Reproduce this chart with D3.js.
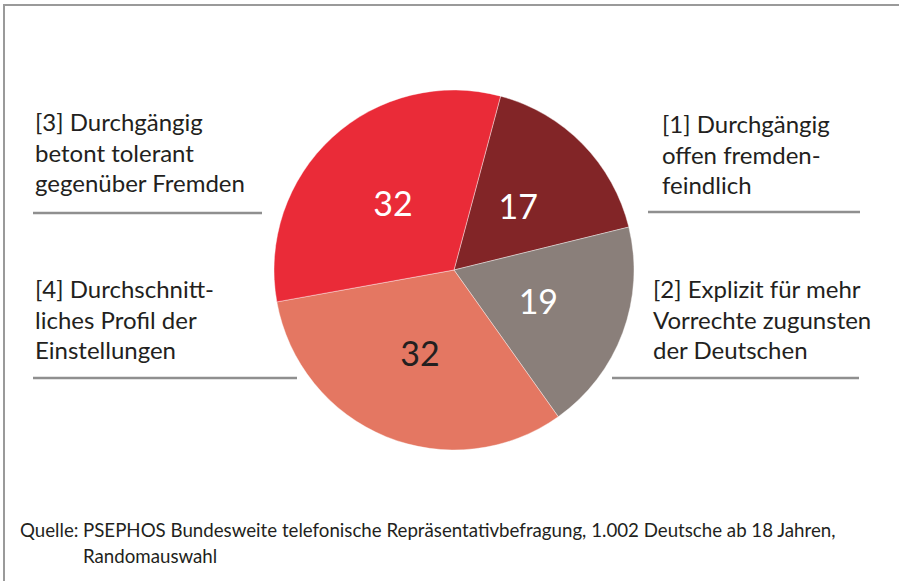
<!DOCTYPE html>
<html>
<head>
<meta charset="utf-8">
<script src="https://cdn.jsdelivr.net/npm/d3@7"></script>
<style>
  body { margin: 0; background: #fff; }
  svg { font-family: Lato, "Open Sans", sans-serif; }
</style>
</head>
<body>
<svg id="chart" width="899" height="581"></svg>
<script>
// Daten
const groups = ["[1]", "[2]", "[4]", "[3]"];
const shares = [17, 19, 32, 32];
const colors = ["#822527", "#8a7f7a", "#e47762", "#ea2b38"];
const valueColors = ["#fff", "#fff", "#231f20", "#fff"];
const labelLines = [
  ["[1] Durchgängig", "offen fremden-", "feindlich"],
  ["[2] Explizit für mehr", "Vorrechte zugunsten", "der Deutschen"],
  ["[4] Durchschnitt-", "liches Profil der", "Einstellungen"],
  ["[3] Durchgängig", "betont tolerant", "gegenüber Fremden"]
];
const source = ["Quelle:", "PSEPHOS Bundesweite telefonische Repräsentativbefragung, 1.002 Deutsche ab 18 Jahren,", "Randomauswahl"];

const svg = d3.select("#chart");
const data = groups.map((g, i) => ({ g, v: shares[i], color: colors[i], tc: valueColors[i], lines: labelLines[i] }));

// Rahmen
svg.append("path")
  .attr("d", "M4,581 L4,5 L899,5")
  .attr("fill", "none")
  .attr("stroke", "#9a9a9a")
  .attr("stroke-width", 2);

// Kreisdiagramm
const cx = 454, cy = 270, r = 180;
const pie = d3.pie().value(d => d.v).sort(null)
  .startAngle(15 * Math.PI / 180)
  .endAngle(375 * Math.PI / 180);
const arc = d3.arc().innerRadius(0).outerRadius(r);

const g = svg.append("g").attr("transform", `translate(${cx},${cy})`);
const arcs = pie(data);
g.selectAll("path.slice")
  .data(arcs)
  .enter()
  .append("path")
  .attr("class", "slice")
  .attr("d", arc)
  .attr("fill", d => d.data.color)
  .attr("stroke", "#fff")
  .attr("stroke-width", 0.4);

// Werte in den Segmenten
const labelArc = d3.arc().innerRadius(90).outerRadius(90);
g.selectAll("text.val")
  .data(arcs)
  .enter()
  .append("text")
  .attr("class", "val")
  .attr("transform", d => `translate(${labelArc.centroid(d)})`)
  .attr("text-anchor", "middle")
  .attr("dy", "0.36em")
  .attr("font-size", 34)
  .attr("fill", d => d.data.tc)
  .text(d => d.data.v);

// Beschriftungen
const labelPos = [
  { x: 662, y: 133, lx1: 648, lx2: 860, ly: 212 },
  { x: 653, y: 298, lx1: 612, lx2: 859, ly: 378 },
  { x: 35, y: 298, lx1: 33, lx2: 297, ly: 378 },
  { x: 35, y: 131, lx1: 33, lx2: 262, ly: 213 }
];
data.forEach((d, i) => {
  const p = labelPos[i];
  const t = svg.append("text")
    .attr("x", p.x).attr("y", p.y)
    .attr("font-size", 24)
    .attr("fill", "#231f20");
  d.lines.forEach((line, j) => {
    t.append("tspan").attr("x", p.x).attr("y", p.y + j * 30.5).text(line);
  });
  svg.append("line")
    .attr("x1", p.lx1).attr("x2", p.lx2)
    .attr("y1", p.ly).attr("y2", p.ly)
    .attr("stroke", "#8f8f8f")
    .attr("stroke-width", 2.5);
});

// Quelle
const src = svg.append("g").attr("font-size", 18.7).attr("fill", "#231f20");
src.append("text").attr("x", 20).attr("y", 537).text(source[0]);
src.append("text").attr("x", 83).attr("y", 537).text(source[1]);
src.append("text").attr("x", 83).attr("y", 563).text(source[2]);
</script>
</body>
</html>
